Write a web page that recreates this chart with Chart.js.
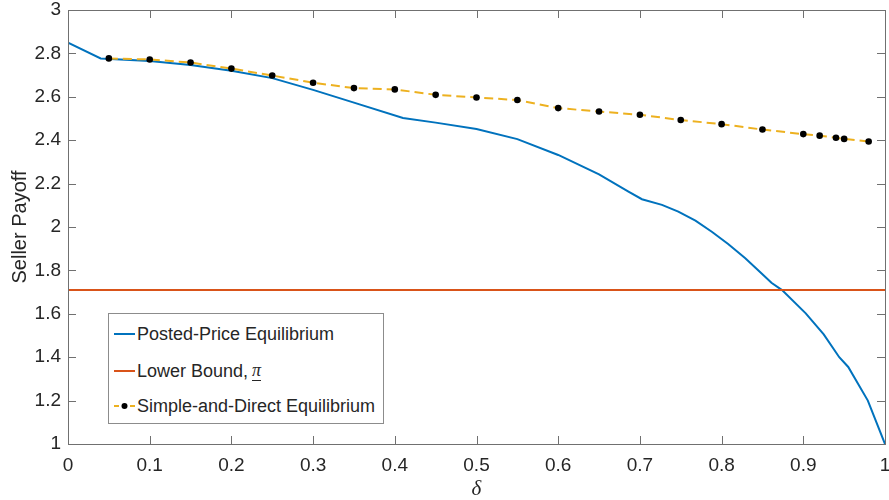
<!DOCTYPE html>
<html>
<head>
<meta charset="utf-8">
<script src="https://cdn.jsdelivr.net/npm/chart.js@4.4.1/dist/chart.umd.min.js"></script>
<style>
  html, body { margin: 0; padding: 0; background: #fff; }
  #wrap { position: relative; width: 889px; height: 500px; }
  #legend {
    position: absolute; left: 108px; top: 313px; width: 274px; height: 109px;
    border: 1px solid #8c8c8c; background: #fff;
    font-family: "Liberation Sans", Arial, sans-serif; font-size: 18px; color: #262626;
  }
  .row { position: absolute; left: 0; height: 24px; display: flex; align-items: center; white-space: nowrap; }
  .row svg { margin-left: 5px; margin-right: 2px; }
  .pi { font-family: "Liberation Serif", serif; font-style: italic; display: inline-block;
        border-bottom: 1px solid #262626; line-height: 1; padding-bottom: 1px; margin-left: 4px; }
</style>
</head>
<body>
<div id="wrap">
  <canvas id="c" width="889" height="500"></canvas>
  <div id="legend">
    <div class="row" style="top:8px"><svg width="21" height="10"><line x1="0" y1="5" x2="21" y2="5" stroke="#0072BD" stroke-width="2"/></svg><span>Posted-Price Equilibrium</span></div>
    <div class="row" style="top:45px"><svg width="21" height="10"><line x1="0" y1="5" x2="21" y2="5" stroke="#D95319" stroke-width="2"/></svg><span>Lower Bound,</span><span class="pi">π</span></div>
    <div class="row" style="top:80px"><svg width="21" height="10"><line x1="0" y1="5" x2="21" y2="5" stroke="#EDB120" stroke-width="2" stroke-dasharray="5,3"/><circle cx="10.5" cy="5" r="3" fill="#000"/></svg><span>Simple-and-Direct Equilibrium</span></div>
  </div>
</div>
<script>
// ---- data ----
const postedX = [0, 0.04, 0.1, 0.15, 0.2, 0.25, 0.3, 0.35, 0.41, 0.45, 0.5, 0.55, 0.6, 0.65, 0.686, 0.7025, 0.727, 0.747, 0.768, 0.788, 0.808, 0.829, 0.849, 0.861, 0.874, 0.903, 0.925, 0.944, 0.955, 0.979, 1.0];
const postedY = [2.85, 2.777, 2.765, 2.746, 2.720, 2.686, 2.632, 2.573, 2.502, 2.481, 2.452, 2.405, 2.332, 2.243, 2.163, 2.128, 2.102, 2.071, 2.029, 1.978, 1.922, 1.856, 1.786, 1.743, 1.709, 1.602, 1.505, 1.40, 1.355, 1.20, 1.0];
const lowerBoundX = [0, 1];
const lowerBoundY = [1.71, 1.71];
const sdX = [0.05, 0.1, 0.15, 0.2, 0.25, 0.3, 0.35, 0.4, 0.45, 0.5, 0.55, 0.6, 0.65, 0.7, 0.75, 0.8, 0.85, 0.9, 0.92, 0.94, 0.95, 0.98];
const sdY = [2.777, 2.772, 2.758, 2.730, 2.698, 2.665, 2.640, 2.634, 2.609, 2.597, 2.585, 2.548, 2.532, 2.517, 2.493, 2.474, 2.449, 2.428, 2.421, 2.411, 2.406, 2.394];
const xTicks = [0, 0.1, 0.2, 0.3, 0.4, 0.5, 0.6, 0.7, 0.8, 0.9, 1];
const xTickLabels = ["0", "0.1", "0.2", "0.3", "0.4", "0.5", "0.6", "0.7", "0.8", "0.9", "1"];
const yTicks = [1, 1.2, 1.4, 1.6, 1.8, 2, 2.2, 2.4, 2.6, 2.8, 3];
const yTickLabels = ["1", "1.2", "1.4", "1.6", "1.8", "2", "2.2", "2.4", "2.6", "2.8", "3"];

const pts = (xs, ys) => xs.map((x, i) => ({ x: x, y: ys[i] }));

const frameColor = '#707070';
const tickColor = '#707070';
const textColor = '#262626';
const tickFont = { family: "'Liberation Sans', Arial, sans-serif", size: 19 };

const matlabAxes = {
  id: 'matlabAxes',
  afterDatasetsDraw(chart) {
    const ctx = chart.ctx, a = chart.chartArea;
    const xs = chart.scales.x, ys = chart.scales.y;
    const L = 8;
    ctx.save();
    ctx.strokeStyle = tickColor;
    ctx.lineWidth = 1;
    ctx.beginPath();
    xTicks.forEach(v => {
      const px = Math.round(xs.getPixelForValue(v)) + 0.5;
      ctx.moveTo(px, a.bottom); ctx.lineTo(px, a.bottom - L);
      ctx.moveTo(px, a.top); ctx.lineTo(px, a.top + L);
    });
    yTicks.forEach(v => {
      const py = Math.round(ys.getPixelForValue(v)) + 0.5;
      ctx.moveTo(a.left, py); ctx.lineTo(a.left + L, py);
      ctx.moveTo(a.right, py); ctx.lineTo(a.right - L, py);
    });
    ctx.stroke();
    ctx.strokeStyle = frameColor;
    ctx.strokeRect(Math.round(a.left) + 0.5, Math.round(a.top) + 0.5,
                   Math.round(a.right - a.left), Math.round(a.bottom - a.top));
    ctx.restore();
  }
};

new Chart(document.getElementById('c'), {
  type: 'line',
  data: {
    datasets: [
      {
        label: 'Simple-and-Direct Equilibrium',
        data: pts(sdX, sdY),
        borderColor: '#EDB120',
        borderWidth: 2,
        borderDash: [9, 5],
        pointRadius: 3.3,
        pointBackgroundColor: '#000',
        pointBorderColor: '#000',
        pointBorderWidth: 0,
        tension: 0,
        order: 1
      },
      {
        label: 'Lower Bound, π',
        data: pts(lowerBoundX, lowerBoundY),
        borderColor: '#D95319',
        borderWidth: 2,
        pointRadius: 0,
        tension: 0,
        order: 2
      },
      {
        label: 'Posted-Price Equilibrium',
        data: pts(postedX, postedY),
        borderColor: '#0072BD',
        borderWidth: 2,
        pointRadius: 0,
        tension: 0,
        order: 3
      }
    ]
  },
  options: {
    responsive: false,
    animation: false,
    devicePixelRatio: 1,
    layout: { padding: { top: 10, right: 2, left: 0, bottom: 0 } },
    plugins: { legend: { display: false }, tooltip: { enabled: false } },
    scales: {
      x: {
        type: 'linear', min: 0, max: 1,
        grid: { display: false, drawTicks: false },
        border: { display: false },
        afterBuildTicks: s => { s.ticks = xTicks.map(v => ({ value: v })); },
        afterFit: s => { s.height = 56; s.paddingLeft = 0; s.paddingRight = 0; },
        ticks: {
          padding: 10, color: textColor, font: tickFont, maxRotation: 0, autoSkip: false,
          callback: (v, i) => xTickLabels[i]
        },
        title: {
          display: true, text: 'δ', color: textColor,
          font: { family: "'Liberation Serif', 'Times New Roman', serif", size: 21, style: 'italic', lineHeight: 1 },
          padding: { top: 0, bottom: 0 }
        }
      },
      y: {
        type: 'linear', min: 1, max: 3,
        grid: { display: false, drawTicks: false },
        border: { display: false },
        afterBuildTicks: s => { s.ticks = yTicks.map(v => ({ value: v })); },
        afterFit: s => { s.width = 68; s.paddingTop = 0; s.paddingBottom = 0; },
        ticks: {
          padding: 7, color: textColor, font: tickFont, autoSkip: false,
          callback: (v, i) => yTickLabels[i]
        },
        title: {
          display: true, text: 'Seller Payoff', color: textColor,
          font: { family: "'Liberation Sans', Arial, sans-serif", size: 20, lineHeight: 1.2 },
          padding: { top: 8, bottom: 0 }
        }
      }
    }
  },
  plugins: [matlabAxes]
});
</script>
</body>
</html>
